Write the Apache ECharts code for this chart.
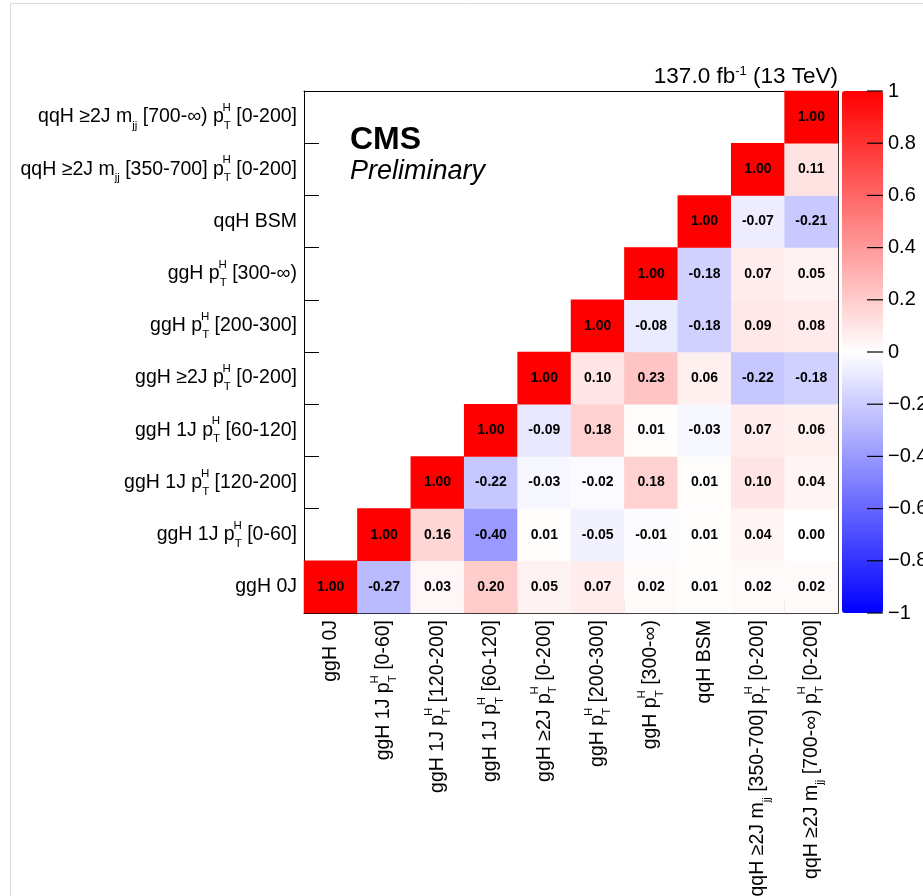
<!DOCTYPE html>
<html>
<head>
<meta charset="utf-8">
<script src="https://cdn.jsdelivr.net/npm/echarts@6/dist/echarts.min.js"></script>
<style>
  html, body { margin: 0; padding: 0; background: #fff; }
  #chart { width: 923px; height: 896px; }
</style>
</head>
<body>
<div id="chart"></div>
<script>
// Signal-strength bins (same order on both axes, bottom-to-top / left-to-right)
const categories = [
  'ggH 0J',
  'ggH 1J p_T^H [0-60]',
  'ggH 1J p_T^H [120-200]',
  'ggH 1J p_T^H [60-120]',
  'ggH ≥2J p_T^H [0-200]',
  'ggH p_T^H [200-300]',
  'ggH p_T^H [300-∞)',
  'qqH BSM',
  'qqH ≥2J m_jj [350-700] p_T^H [0-200]',
  'qqH ≥2J m_jj [700-∞) p_T^H [0-200]'
];

// Correlation coefficients: row i lists columns i..9 (upper triangle)
const row0 = [1.00, -0.27, 0.03, 0.20, 0.05, 0.07, 0.02, 0.01, 0.02, 0.02];
const row1 = [1.00, 0.16, -0.40, 0.01, -0.05, -0.01, 0.01, 0.04, 0.00];
const row2 = [1.00, -0.22, -0.03, -0.02, 0.18, 0.01, 0.10, 0.04];
const row3 = [1.00, -0.09, 0.18, 0.01, -0.03, 0.07, 0.06];
const row4 = [1.00, 0.10, 0.23, 0.06, -0.22, -0.18];
const row5 = [1.00, -0.08, -0.18, 0.09, 0.08];
const row6 = [1.00, -0.18, 0.07, 0.05];
const row7 = [1.00, -0.07, -0.21];
const row8 = [1.00, 0.11];
const row9 = [1.00];
const rows = [row0, row1, row2, row3, row4, row5, row6, row7, row8, row9];

// Colour-scale ticks
const scaleTicks = [-1, -0.8, -0.6, -0.4, -0.2, 0, 0.2, 0.4, 0.6, 0.8, 1];

const cells = [];
rows.forEach((vals, r) => {
  vals.forEach((v, k) => cells.push([r + k, r, v]));
});

const FONT = "'Liberation Sans', Arial, Helvetica, sans-serif";

// Turn p_T^H and m_jj into stacked super/subscripts.
// Labels are right-aligned, so the zero-width superscript is laid out
// right after the subscript and ends up stacked above it.
function richName(name) {
  return name
    .replace('p_T^H', '{t|p}{sub|T}{sup|H}')
    .replace('m_jj', '{t|m}{sub|jj}');
}
const labelRich = {
  t:   { fontSize: 19.5, fontFamily: FONT, color: '#000', lineHeight: 30 },
  sup: { fontSize: 11.5, fontFamily: FONT, color: '#000', verticalAlign: 'top', width: 0, lineHeight: 13 },
  sub: { fontSize: 11.5, fontFamily: FONT, color: '#000', verticalAlign: 'bottom', lineHeight: 12 }
};

const chart = echarts.init(document.getElementById('chart'), null, { renderer: 'canvas' });

const option = {
  backgroundColor: '#fff',
  animation: false,
  title: {
    text: '137.0 fb{s|-1} (13 TeV)',
    right: 80,
    top: 60,
    textStyle: {
      fontFamily: FONT, fontSize: 22.5, fontWeight: 'normal', color: '#000',
      rich: {
        s: { fontFamily: FONT, fontSize: 13, color: '#000', verticalAlign: 'top', lineHeight: 24 }
      }
    }
  },
  graphic: [
    { type: 'rect', silent: true, z: -10,
      shape: { x: 10.5, y: 3.5, width: 1000, height: 1000 },
      style: { fill: 'none', stroke: '#dcdcdc', lineWidth: 1 } },
    { type: 'text', x: 350, y: 140, z: 100,
      style: { text: 'CMS', fontFamily: FONT, fontSize: 32, fontWeight: 'bold',
               fill: '#000', textVerticalAlign: 'middle' } },
    { type: 'text', x: 350, y: 171, z: 100,
      style: { text: 'Preliminary', fontFamily: FONT, fontSize: 27, fontStyle: 'italic',
               fill: '#000', textVerticalAlign: 'middle' } }
  ],
  grid: [
    { left: 304, top: 91, width: 534, height: 522, show: false, outerBoundsMode: 'none', containLabel: false },
    { left: 842, top: 91, width: 41, height: 522, show: false, outerBoundsMode: 'none', containLabel: false }
  ],
  xAxis: [
    {
      type: 'category', data: categories, gridIndex: 0, position: 'bottom',
      axisLine: { show: true, lineStyle: { color: '#000', width: 1 } },
      axisTick: { show: true, inside: true, length: 12, lineStyle: { color: '#000' } },
      axisLabel: {
        interval: 0, rotate: 90, margin: 7, color: '#000',
        fontFamily: FONT, fontSize: 19.5,
        formatter: richName, rich: labelRich
      },
      splitLine: { show: false }, splitArea: { show: false }
    },
    {
      type: 'category', data: categories, gridIndex: 0, position: 'top',
      axisLine: { show: true, lineStyle: { color: '#000', width: 1 } },
      axisTick: { show: false }, axisLabel: { show: false }
    },
    { type: 'value', gridIndex: 1, min: 0, max: 1, show: false }
  ],
  yAxis: [
    {
      type: 'category', data: categories, gridIndex: 0, position: 'left',
      axisLine: { show: true, lineStyle: { color: '#000', width: 1 } },
      axisTick: { show: true, inside: true, length: 15, lineStyle: { color: '#000' } },
      axisLabel: {
        interval: 0, margin: 7, color: '#000',
        fontFamily: FONT, fontSize: 19.5,
        formatter: richName, rich: labelRich
      },
      splitLine: { show: false }, splitArea: { show: false }
    },
    {
      type: 'category', data: categories, gridIndex: 0, position: 'right',
      axisLine: { show: true, lineStyle: { color: '#000', width: 1 } },
      axisTick: { show: false }, axisLabel: { show: false }
    },
    {
      // Scale axis of the colour bar
      type: 'value', gridIndex: 1, position: 'right', min: -1, max: 1, interval: 0.2,
      axisLine: { show: false },
      axisTick: { show: false },
      axisLabel: {
        margin: 5, color: '#000', fontFamily: FONT, fontSize: 20,
        formatter: v => {
          const r = Math.round(v * 10) / 10;
          return scaleTicks.indexOf(r) >= 0 ? String(r).replace('-', '−') : '';
        }
      },
      splitLine: { show: false }
    }
  ],
  visualMap: {
    type: 'continuous', min: -1, max: 1, seriesIndex: 0,
    calculable: false, realtime: false, hoverLink: false,
    left: 842, top: 91, itemWidth: 41, itemHeight: 522, padding: 0,
    text: null, showLabel: false,
    inRange: { color: ['#0000ff', '#ffffff', '#ff0000'] }
  },
  series: [
    {
      type: 'heatmap',
      xAxisIndex: 0, yAxisIndex: 0,
      data: cells,
      label: {
        show: true, color: '#000', fontFamily: FONT, fontSize: 14, fontWeight: 'bold',
        formatter: p => p.value[2].toFixed(2)
      },
      itemStyle: { borderWidth: 0 },
      emphasis: { disabled: true }
    },
    {
      // Tick marks on the colour bar, pointing inward from its right edge
      type: 'custom',
      xAxisIndex: 2, yAxisIndex: 2,
      z: 30, silent: true,
      data: scaleTicks.map(v => [1, v]),
      renderItem: (params, api) => {
        const p = api.coord([api.value(0), api.value(1)]);
        return {
          type: 'line',
          shape: { x1: p[0] - 16, y1: p[1], x2: p[0], y2: p[1] },
          style: { stroke: '#000', lineWidth: 1.2 }
        };
      }
    }
  ]
};

chart.setOption(option);
</script>
</body>
</html>
